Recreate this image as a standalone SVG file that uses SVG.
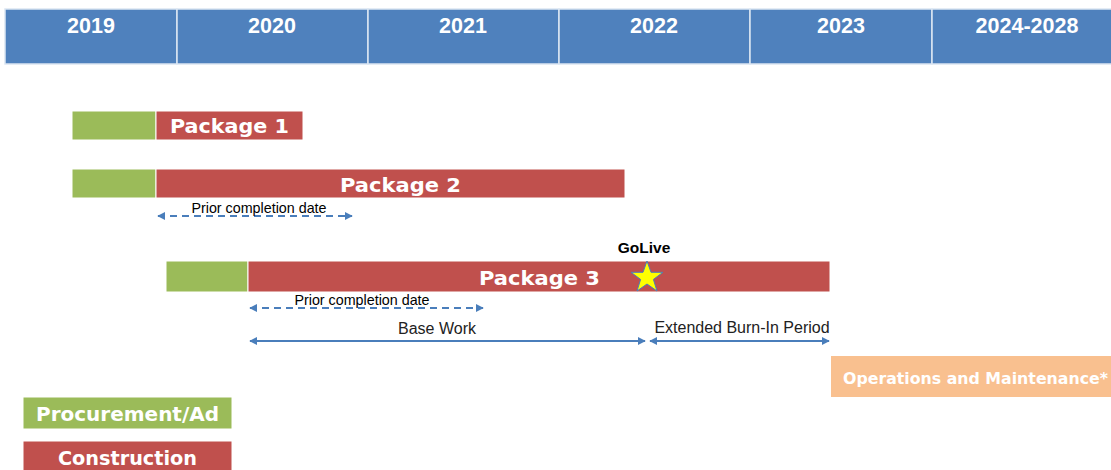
<svg xmlns="http://www.w3.org/2000/svg" width="1111" height="470" viewBox="0 0 1111 470">
<defs>
<marker id="ah" viewBox="0 0 10 10" refX="9" refY="5" markerWidth="8" markerHeight="8" markerUnits="userSpaceOnUse" orient="auto-start-reverse">
<path d="M0,0 L10,5 L0,10 Z" fill="#4A7EBB"/>
</marker>
<style>
.hdr{fill:#4F81BD;stroke:#DCE6F2;stroke-width:1.5}
.yr{font-family:"Liberation Sans",Arial,sans-serif;font-weight:bold;font-size:21.5px;fill:#fff;text-anchor:middle}
.grn{fill:#9BBB59;stroke:#fff;stroke-width:1}
.red{fill:#C0504D;stroke:#fff;stroke-width:1}
.pk{font-family:"DejaVu Sans","Liberation Sans",sans-serif;font-weight:bold;font-size:19.5px;fill:#fff}
.lbl{font-family:"Liberation Sans",Arial,sans-serif;font-size:14.3px;fill:#000}
.lbl2{font-family:"Liberation Sans",Arial,sans-serif;font-size:16px;fill:#222}
.arr{stroke:#4A7EBB;stroke-width:2;fill:none;marker-start:url(#ah);marker-end:url(#ah)}
.dash{stroke-dasharray:7,5}
</style>
</defs>
<rect width="1111" height="470" fill="#fff"/>
<g id="header">
<rect class="hdr" x="5" y="9" width="172" height="55"/>
<rect class="hdr" x="177" y="9" width="191" height="55"/>
<rect class="hdr" x="368" y="9" width="191" height="55"/>
<rect class="hdr" x="559" y="9" width="191" height="55"/>
<rect class="hdr" x="750" y="9" width="182" height="55"/>
<rect class="hdr" x="932" y="9" width="180" height="55"/>
<text class="yr" x="91" y="33">2019</text>
<text class="yr" x="272" y="33">2020</text>
<text class="yr" x="463" y="33">2021</text>
<text class="yr" x="654" y="33">2022</text>
<text class="yr" x="841" y="33">2023</text>
<text class="yr" x="1027" y="33">2024-2028</text>
</g>
<g id="package1">
<rect class="grn" x="72" y="111" width="84" height="29"/>
<rect class="red" x="156" y="111" width="147" height="29"/>
<text class="pk" x="170" y="133" textLength="119" lengthAdjust="spacingAndGlyphs">Package 1</text>
</g>
<g id="package2">
<rect class="grn" x="72" y="169" width="84" height="29"/>
<rect class="red" x="156" y="169" width="469" height="29"/>
<text class="pk" x="340" y="192" textLength="121" lengthAdjust="spacingAndGlyphs">Package 2</text>
</g>
<g id="package3">
<rect class="grn" x="166" y="261" width="82" height="31"/>
<rect class="red" x="248" y="261" width="582" height="31"/>
<text class="pk" x="479" y="285" textLength="121" lengthAdjust="spacingAndGlyphs">Package 3</text>
</g>
<g id="golive">
<text x="644" y="253" font-family="Liberation Sans,Arial,sans-serif" font-weight="bold" font-size="15.5" text-anchor="middle" fill="#000">GoLive</text>
<polygon points="647,261 651,272.3 663,272.3 653.4,279.4 657,291 647,284 637,291 640.6,279.4 631,272.3 643,272.3" fill="#FFFF00" stroke="#4A7EBB" stroke-width="1"/>
</g>
<g id="connectors">
<line class="arr dash" x1="158" y1="216" x2="352" y2="216"/>
<line class="arr dash" x1="250" y1="308" x2="483" y2="308"/>
<line class="arr" x1="250" y1="341" x2="645" y2="341"/>
<line class="arr" x1="650" y1="341" x2="829" y2="341"/>
</g>
<g id="labels">
<text class="lbl" x="259" y="213" text-anchor="middle">Prior completion date</text>
<text class="lbl" x="362" y="305" text-anchor="middle">Prior completion date</text>
<text class="lbl2" x="437" y="334" text-anchor="middle">Base Work</text>
<text class="lbl2" x="742" y="333" text-anchor="middle">Extended Burn-In Period</text>
</g>
<g id="om">
<rect x="831" y="356" width="280" height="41" fill="#F9C08F"/>
<text x="843" y="384" font-family="DejaVu Sans,Liberation Sans,sans-serif" font-weight="bold" font-size="15" fill="#fff" textLength="265" lengthAdjust="spacingAndGlyphs">Operations and Maintenance*</text>
</g>
<g id="legend-procurement">
<rect class="grn" x="23" y="397" width="209" height="32"/>
<text class="pk" x="36" y="421" textLength="183" lengthAdjust="spacingAndGlyphs">Procurement/Ad</text>
</g>
<g id="legend-construction">
<rect class="red" x="23" y="441" width="209" height="30"/>
<text class="pk" x="58" y="465" textLength="139" lengthAdjust="spacingAndGlyphs">Construction</text>
</g>
</svg>
